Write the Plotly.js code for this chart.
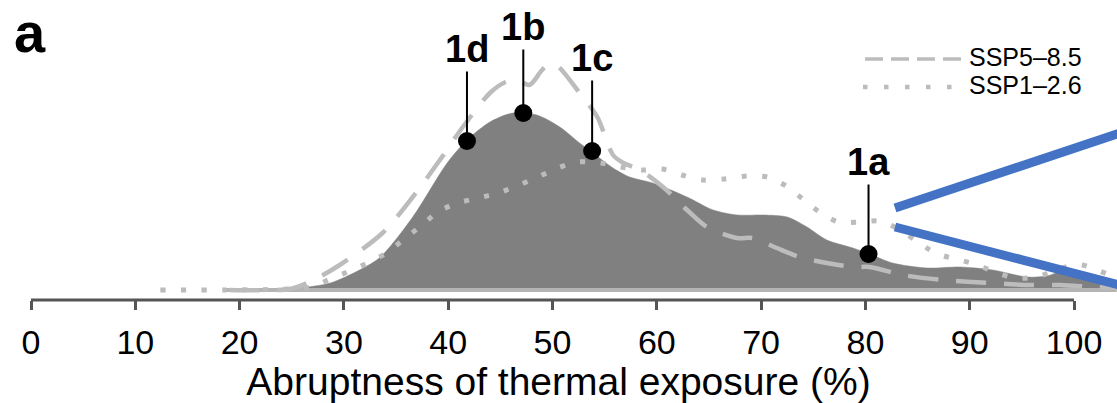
<!DOCTYPE html>
<html>
<head>
<meta charset="utf-8">
<script src="https://cdn.plot.ly/plotly-3.0.1.min.js"></script>
<style>
  html, body { margin: 0; padding: 0; background: #ffffff; }
  #chart { width: 1117px; height: 403px; }
</style>
</head>
<body>
<div id="chart"></div>
<script>
// ---------------- data ----------------
// Abruptness of thermal exposure (%) and relative density (arbitrary units)
var observedX = [18.6, 24.8, 25.8, 28.7, 31.5, 33.5, 36.6, 39.9, 41.8, 44.0, 46.2, 48.5, 50.7, 52.6, 53.9, 55.8, 57.4, 59.6, 62.9, 65.4, 67.7, 70.2, 72.5, 74.4, 76.3, 78.8, 80.4, 82.6, 85.9, 89.1, 92.2, 95.5, 97.4, 99.3, 101.5, 104.1];
var observedY = [0, 1, 2, 7, 20, 33, 73, 127, 150, 168, 177, 175, 163, 147, 137, 122, 113, 107, 93, 80, 75, 75, 73, 63, 50, 42, 36, 27, 22, 23, 20, 13, 14, 20, 15, 5];

var ssp585X = [19.0, 24.8, 26.7, 29.6, 33.7, 36.6, 39.2, 41.4, 44.0, 45.5, 46.6, 47.8, 49.0, 49.8, 50.6, 52.6, 54.3, 55.8, 56.8, 58.4, 60.6, 62.9, 64.8, 67.7, 69.2, 71.5, 73.7, 76.3, 78.8, 80.4, 83.6, 87.4, 92.2, 95.5, 98.7, 101.8, 104.1];
var ssp585Y = [0, 1, 8, 25, 57, 93, 130, 163, 197, 208, 210, 205, 220, 227, 223, 197, 173, 135, 127, 120, 103, 80, 63, 52, 52, 42, 33, 27, 23, 23, 15, 10, 7, 5, 5, 3, 2];

var ssp126X = [12.4, 18.6, 24.8, 26.9, 28.9, 30.8, 32.5, 34.2, 35.9, 37.5, 39.0, 40.9, 42.9, 44.8, 46.8, 48.6, 50.5, 52.4, 54.6, 56.5, 58.6, 60.5, 62.4, 64.4, 66.5, 68.6, 70.6, 72.4, 74.0, 75.6, 77.4, 79.4, 81.4, 83.3, 84.9, 86.7, 88.6, 90.5, 92.4, 94.3, 96.3, 98.4, 100.3, 102.2, 104.1];
var ssp126Y = [0, 0, 1, 3, 12, 20, 28, 38, 52, 65, 78, 87, 92, 97, 105, 113, 122, 128, 127, 123, 120, 121, 115, 110, 111, 114, 113, 104, 91, 78, 68, 68, 69, 60, 49, 37, 31, 26, 18, 12, 13, 20, 26, 20, 12];

var rugX = [18.6, 104.1];
var rugY = [0, 0];

var siteNames = ["1a", "1b", "1c", "1d"];
var siteX = [80.3, 47.2, 53.8, 41.8];
var siteY = [36, 177, 139, 149];

var tickValues = [0, 10, 20, 30, 40, 50, 60, 70, 80, 90, 100];
var tickLabels = ["0", "10", "20", "30", "40", "50", "60", "70", "80", "90", "100"];

var legendNames = ["SSP5\u20138.5", "SSP1\u20132.6"];

// ---------------- layout helpers ----------------
var W = 1117, PLOT_H = 300;
function px(x) { return x / W; }
function py(y) { return 1 - y / PLOT_H; }

var FONT = "Liberation Sans, Arial, Helvetica, sans-serif";
var LIGHT = "#bcbcbc";

var traces = [
  { x: observedX, y: observedY, type: "scatter", mode: "lines",
    line: { color: "#808080", width: 0.5, shape: "spline", smoothing: 0.8 },
    fill: "tozeroy", fillcolor: "#808080", hoverinfo: "skip", showlegend: false },
  { x: rugX, y: rugY, type: "scatter", mode: "lines",
    line: { color: "#b4b4b4", width: 4 }, hoverinfo: "skip", showlegend: false },
  { x: ssp126X, y: ssp126Y, type: "scatter", mode: "lines", name: legendNames[1],
    line: { color: LIGHT, width: 5, dash: "5px,15.5px", shape: "spline", smoothing: 0.8 },
    showlegend: false },
  { x: ssp585X, y: ssp585Y, type: "scatter", mode: "lines", name: legendNames[0],
    line: { color: LIGHT, width: 4.5, dash: "30px,18px", shape: "spline", smoothing: 0.8 },
    showlegend: false },
  { x: siteX, y: siteY, text: siteNames, type: "scatter", mode: "markers",
    marker: { color: "#000000", size: 18 }, cliponaxis: false, showlegend: false }
];

var annotations = [];
// site labels with stems
var stemOffsets = [-92, -86, -93, -92];
for (var i = 0; i < siteNames.length; i++) {
  annotations.push({
    x: siteX[i], y: siteY[i], xref: "x", yref: "y",
    text: siteNames[i], showarrow: true, arrowhead: 0, arrowwidth: 2, arrowcolor: "#000000",
    ax: 0, ay: stemOffsets[i], standoff: 0,
    font: { family: FONT, size: 38, color: "#000000", weight: "bold" }
  });
}
// panel letter
annotations.push({
  x: px(30), y: 1, xref: "paper", yref: "paper", showarrow: false,
  text: "a", font: { family: FONT, size: 56, color: "#000000", weight: "bold" },
  xanchor: "center", yanchor: "top", borderpad: 0
});
// legend texts
annotations.push({
  x: px(968), y: py(57), xref: "paper", yref: "paper", showarrow: false,
  text: legendNames[0], xanchor: "left", yanchor: "middle", borderpad: 0,
  font: { family: FONT, size: 25, color: "#000000" }
});
annotations.push({
  x: px(968), y: py(85), xref: "paper", yref: "paper", showarrow: false,
  text: legendNames[1], xanchor: "left", yanchor: "middle", borderpad: 0,
  font: { family: FONT, size: 25, color: "#000000" }
});

var shapes = [
  // x axis line (0 to 100 only)
  { type: "line", xref: "x", yref: "paper", x0: 0, x1: 100, y0: 0, y1: 0,
    line: { color: "#555555", width: 3 } },
  // legend samples
  { type: "line", xref: "paper", yref: "paper", x0: px(865), x1: px(963), y0: py(59), y1: py(59),
    line: { color: LIGHT, width: 3.5, dash: "18px,8px" } },
  { type: "line", xref: "paper", yref: "paper", x0: px(863), x1: px(955), y0: py(87), y1: py(87),
    line: { color: LIGHT, width: 4.5, dash: "4.5px,16.5px" } },
  // blue zoom connectors
  { type: "line", xref: "paper", yref: "paper", x0: px(895), y0: py(208), x1: px(1135), y1: py(128),
    line: { color: "#4472C4", width: 9 } },
  { type: "line", xref: "paper", yref: "paper", x0: px(895), y0: py(227), x1: px(1135), y1: py(289),
    line: { color: "#4472C4", width: 9 } }
];

var layout = {
  width: 1117, height: 403,
  margin: { l: 0, r: 0, t: 0, b: 103, pad: 0 },
  paper_bgcolor: "#ffffff", plot_bgcolor: "#ffffff",
  showlegend: false,
  xaxis: {
    range: [-31 / 10.43, 1086 / 10.43],
    tickvals: tickValues, ticktext: tickLabels,
    ticks: "outside", ticklen: 9, tickwidth: 3, tickcolor: "#555555",
    ticklabelstandoff: 3,
    showline: false, showgrid: false, zeroline: false,
    tickfont: { family: FONT, size: 34, color: "#000000" },
    title: { text: "Abruptness of thermal exposure (%)", standoff: 3,
             font: { family: FONT, size: 39, color: "#000000" } },
    automargin: false, fixedrange: true
  },
  yaxis: {
    range: [-10, 290], visible: false, showgrid: false, zeroline: false, fixedrange: true
  },
  annotations: annotations,
  shapes: shapes
};

Plotly.newPlot("chart", traces, layout, { displayModeBar: false, staticPlot: true });
</script>
</body>
</html>
